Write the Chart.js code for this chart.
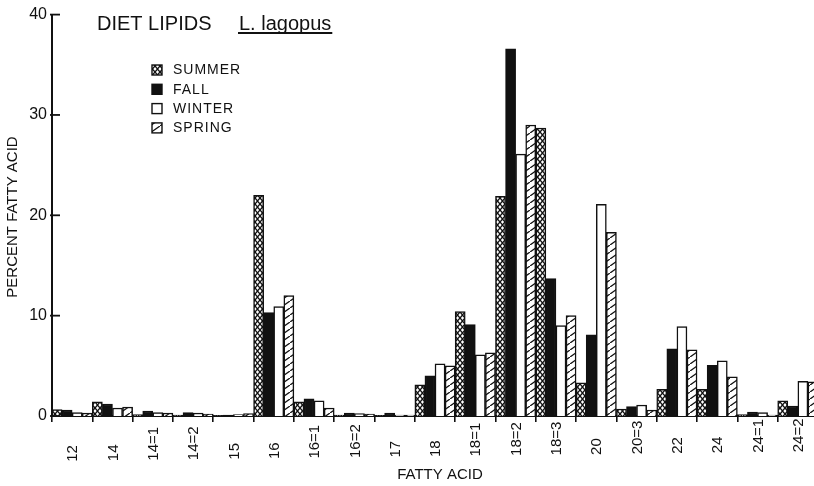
<!DOCTYPE html>
<html>
<head>
<meta charset="utf-8">
<script src="https://cdn.jsdelivr.net/npm/chart.js@4.4.0/dist/chart.umd.min.js"></script>
<style>
  html, body { margin:0; padding:0; background:#fff; overflow:hidden; }
  #wrap { width:830px; height:486px; }
</style>
</head>
<body>
<div id="wrap"><canvas id="chart" width="830" height="486"></canvas></div>
<script>
// --- dados (percent fatty acid) ---
const categories = ['12','14','14=1','14=2','15','16','16=1','16=2','17','18','18=1','18=2','18=3','20','20=3','22','24','24=1','24=2'];
const summer = [0.65, 1.4, 0.15, 0.1, 0.05, 22.0, 1.4, 0.1, 0.05, 3.1, 10.4, 21.9, 28.7, 3.3, 0.7, 2.65, 2.65, 0.15, 1.5];
const fall   = [0.6, 1.2, 0.5, 0.35, 0.1, 10.3, 1.7, 0.3, 0.3, 4.0, 9.1, 36.6, 13.7, 8.1, 0.95, 6.7, 5.05, 0.4, 1.0];
const winter = [0.35, 0.8, 0.35, 0.3, 0.15, 10.9, 1.5, 0.25, 0.1, 5.2, 6.1, 26.1, 9.0, 21.1, 1.1, 8.9, 5.5, 0.35, 3.45];
const spring = [0.3, 0.9, 0.3, 0.2, 0.25, 12.0, 0.8, 0.2, 0.1, 5.0, 6.3, 29.0, 10.0, 18.3, 0.6, 6.6, 3.9, 0.1, 3.4];
const yTicks = [0, 10, 20, 30, 40];
const seriesNames = ['SUMMER', 'FALL', 'WINTER', 'SPRING'];

const INK = '#111';
const FONT = '"Liberation Sans", Arial, sans-serif';

// --- padrões de preenchimento ---
function crossPattern(){
  const c = document.createElement('canvas'); c.width = 5; c.height = 6;
  const g = c.getContext('2d');
  g.fillStyle = '#fff'; g.fillRect(0,0,5,6);
  g.strokeStyle = INK; g.lineWidth = 1.4;
  g.beginPath(); g.moveTo(-0.5,-0.6); g.lineTo(5.5,6.6); g.moveTo(5.5,-0.6); g.lineTo(-0.5,6.6); g.stroke();
  return g.createPattern(c, 'repeat');
}
function hatchPattern(){
  const c = document.createElement('canvas'); c.width = 10; c.height = 7;
  const g = c.getContext('2d');
  g.fillStyle = '#fff'; g.fillRect(0,0,10,7);
  g.strokeStyle = INK; g.lineWidth = 1.3;
  g.beginPath(); g.moveTo(-1,7.7); g.lineTo(11,-0.7); g.stroke();
  return g.createPattern(c, 'repeat');
}
const fills = [crossPattern(), INK, '#fff', hatchPattern()];

// --- textos e marcas desenhados à mão sobre o gráfico ---
const paperText = {
  id: 'paperText',
  afterDraw(chart){
    const {ctx, chartArea, scales:{x, y}} = chart;
    ctx.save();
    ctx.fillStyle = INK; ctx.strokeStyle = INK;

    // ticks do eixo y para dentro
    ctx.lineWidth = 1.8;
    for (const v of yTicks){
      const py = y.getPixelForValue(v);
      ctx.beginPath(); ctx.moveTo(chartArea.left - 2, py); ctx.lineTo(chartArea.left + 8, py); ctx.stroke();
    }

    // rótulos das categorias, girados (lidos de baixo para cima)
    ctx.font = '15px ' + FONT;
    ctx.textAlign = 'left'; ctx.textBaseline = 'middle';
    categories.forEach((lab, i)=>{
      const px = x.getPixelForValue(i);
      const by = 462 - (px - chartArea.left) / (chartArea.right - chartArea.left) * 10;
      ctx.save(); ctx.translate(px + 1, by); ctx.rotate(-Math.PI/2);
      ctx.fillText(lab, 0, 0);
      ctx.restore();
    });

    // título do eixo x
    ctx.textAlign = 'center';
    ctx.fillText('FATTY ACID', 440, 475);

    // título do eixo y
    ctx.save(); ctx.translate(13, 217); ctx.rotate(-Math.PI/2);
    ctx.fillText('PERCENT FATTY ACID', 0, 0);
    ctx.restore();

    // título
    ctx.font = '20px ' + FONT;
    ctx.textAlign = 'left'; ctx.textBaseline = 'alphabetic';
    ctx.fillText('DIET LIPIDS', 97, 30);
    ctx.fillText('L. lagopus', 239, 30);
    const w = ctx.measureText('L. lagopus').width;
    ctx.lineWidth = 2;
    ctx.beginPath(); ctx.moveTo(238, 33); ctx.lineTo(240 + w, 33); ctx.stroke();

    // legenda
    ctx.font = '14px ' + FONT;
    ctx.letterSpacing = '1px';
    ctx.textBaseline = 'middle';
    ctx.lineWidth = 1.4;
    chart.data.datasets.forEach((ds, i)=>{
      const cy = 70 + i * 19.3;
      ctx.fillStyle = ds.backgroundColor;
      ctx.fillRect(152, cy - 5, 10, 10);
      ctx.strokeRect(152, cy - 5, 10, 10);
      ctx.fillStyle = INK;
      ctx.fillText(ds.label, 173, cy + 0.5);
    });
    ctx.restore();
  }
};

const datasets = [summer, fall, winter, spring].map((arr, i)=>({
  label: seriesNames[i],
  data: arr,
  backgroundColor: fills[i],
  borderColor: INK,
  borderWidth: 1.5,
  categoryPercentage: 1,
  barPercentage: 1
}));

new Chart(document.getElementById('chart').getContext('2d'), {
  type: 'bar',
  data: { labels: categories, datasets },
  options: {
    responsive: false,
    animation: false,
    layout: { padding: { top: 14, right: 12, bottom: 0, left: 0 } },
    plugins: { legend: { display: false }, tooltip: { enabled: false }, title: { display: false } },
    scales: {
      x: {
        afterFit(s){ s.height = 70; },
        grid: { display: true, offset: true, drawOnChartArea: false, drawTicks: true, tickLength: 6, color: INK, lineWidth: 1.6 },
        border: { display: true, color: INK, width: 2 },
        ticks: { display: false }
      },
      y: {
        min: 0, max: 40,
        afterFit(s){ s.width = 52; },
        afterBuildTicks(s){ s.ticks = yTicks.map(v=>({ value: v })); },
        grid: { display: false, drawTicks: false },
        border: { display: true, color: INK, width: 2 },
        ticks: { color: INK, padding: 5, font: { size: 16, family: FONT } }
      }
    }
  },
  plugins: [paperText]
});
</script>
</body>
</html>
